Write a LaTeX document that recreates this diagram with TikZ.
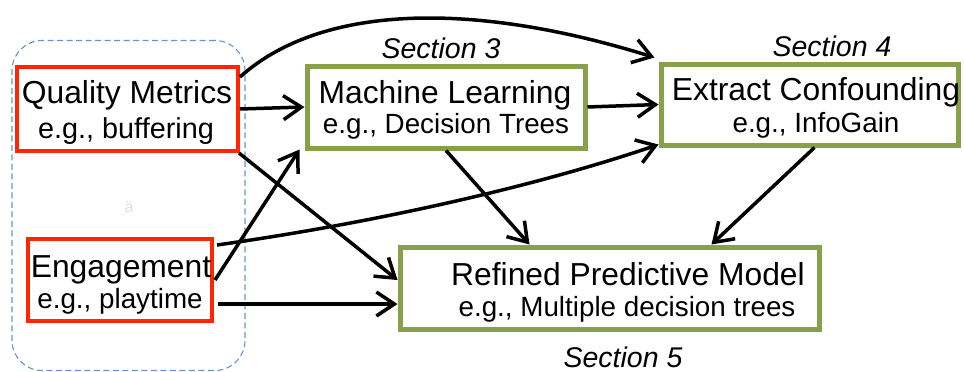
\documentclass[tikz,border=0pt]{standalone}
\usepackage{fontspec}
\setmainfont{Liberation Sans}
\usetikzlibrary{arrows.meta,calc}
\definecolor{boxred}{RGB}{255,38,0}
\definecolor{boxgreen}{RGB}{137,160,74}
\definecolor{groupblue}{RGB}{100,150,205}
\begin{document}
\begin{tikzpicture}[x=1pt,y=-1pt,
  redbox/.style={draw=boxred,line width=4pt,inner sep=0pt},
  greenbox/.style={draw=boxgreen,line width=5pt,inner sep=0pt},
  ttl/.style={anchor=base,inner sep=0pt,font=\fontsize{31.8}{35}\selectfont},
  sub/.style={anchor=base,inner sep=0pt,font=\fontsize{27.8}{30}\selectfont},
  sect/.style={anchor=base,inner sep=0pt,font=\fontsize{28.5}{30}\selectfont\itshape},
  arr/.style={line width=3.5pt,-{Straight Barb[length=18pt,width=24pt]}}]
\useasboundingbox (0,0) rectangle (964,372);
% group
\node[draw=groupblue,line width=1.1pt,dash pattern=on 6pt off 3.5pt,rounded corners=30pt,
      minimum width=233pt,minimum height=330pt,inner sep=0pt] (grp) at (128.5,205.5) {};
\node[inner sep=0pt,text=black!12,font=\fontsize{16}{17}\selectfont] (mark) at (129,207) {ä};
% boxes
\node[redbox,minimum width=221pt,minimum height=84pt] (qm) at (127.5,109) {};
\node[redbox,minimum width=184pt,minimum height=82pt] (eng) at (120,280) {};
\node[greenbox,minimum width=278pt,minimum height=82pt] (ml) at (446,107) {};
\node[greenbox,minimum width=297pt,minimum height=81pt] (ec) at (809.5,104.5) {};
\node[greenbox,minimum width=419pt,minimum height=82pt] (rp) at (609.5,288) {};
% texts
\node[ttl] (qm1) at (127,103) {Quality Metrics};
\node[sub,font=\fontsize{28.8}{30}\selectfont] (qm2) at (126,138) {e.g., buffering};
\node[ttl] (eng1) at (121,277) {Engagement};
\node[sub] (eng2) at (120,308) {e.g., playtime};
\node[ttl] (ml1) at (445,103) {Machine Learning};
\node[sub] (ml2) at (446,133) {e.g., Decision Trees};
\node[ttl] (ec1) at (816,100) {Extract Confounding};
\node[sub] (ec2) at (816,132) {e.g., InfoGain};
\node[ttl] (rp1) at (628,285) {Refined Predictive Model};
\node[sub] (rp2) at (627,316) {e.g., Multiple decision trees};
\node[sect] (s3) at (441,58) {Section 3};
\node[sect] (s4) at (832,56) {Section 4};
\node[sect] (s5) at (623,367) {Section 5};
% connectors
\draw[arr] (qm.east) -- (ml.west);
\draw[arr] ([yshift=-12pt]qm.north east) .. controls (320,5) and (470,0) .. ([xshift=-4pt,yshift=4pt]ec.north west);
\draw[arr] ([xshift=-1pt]qm.south east) -- ([yshift=8pt]rp.west);
\draw[arr] ([xshift=1pt]eng.east) -- ([xshift=-5pt,yshift=1pt]ml.south west);
\draw[arr] ([xshift=3pt,yshift=-8pt]eng.north east) .. controls (380,222) and (540,185) .. ([yshift=3pt]ec.south west);
\draw[arr] ([xshift=4pt,yshift=-24pt]eng.east) -- ([yshift=-24pt]eng.east -| rp.west);
\draw[arr] (ml.east) -- (ec.west);
\draw[arr] (ml.south) -- ([xshift=-80pt]rp.north);
\draw[arr] ([xshift=5pt]ec.south) -- ([xshift=102pt]rp.north);
\end{tikzpicture}
\end{document}
